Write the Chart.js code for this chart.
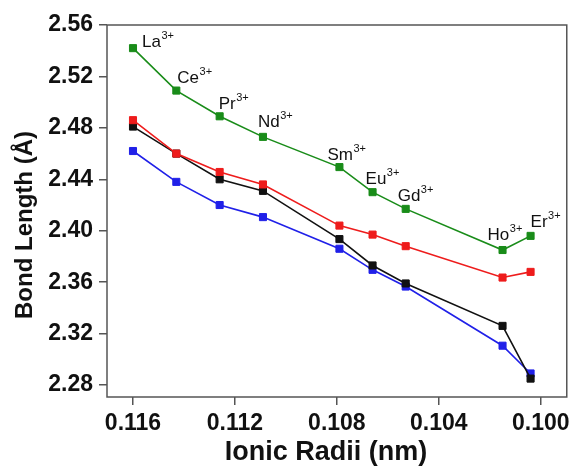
<!DOCTYPE html>
<html>
<head>
<meta charset="utf-8">
<script src="https://cdn.jsdelivr.net/npm/chart.js@4.4.0/dist/chart.umd.min.js"></script>
<style>
  body { margin: 0; background: #fff; }
  canvas { display: block; }
</style>
</head>
<body>
<canvas id="chart" width="575" height="466"></canvas>
<script>
// values
const ions = ["La", "Ce", "Pr", "Nd", "Sm", "Eu", "Gd", "Ho", "Er"];
const ionicRadii = [0.1160, 0.1143, 0.1126, 0.1109, 0.1079, 0.1066, 0.1053, 0.1015, 0.1004];
const greenSeries = [2.542, 2.509, 2.489, 2.473, 2.4495, 2.430, 2.417, 2.385, 2.396];
const redSeries = [2.486, 2.460, 2.4457, 2.436, 2.404, 2.397, 2.388, 2.3636, 2.368];
const blackSeries = [2.481, 2.460, 2.440, 2.431, 2.3935, 2.373, 2.359, 2.326, 2.285];
const blueSeries = [2.462, 2.438, 2.420, 2.4106, 2.386, 2.3696, 2.3566, 2.3106, 2.289];
const xTicks = [0.116, 0.112, 0.108, 0.104, 0.100];
const yTicks = [2.28, 2.32, 2.36, 2.40, 2.44, 2.48, 2.52, 2.56];

// pixel nudges for the ion labels (relative to the green points)
const labelOffsets = [[9, -1], [1, -8], [-1, -7], [-5, -10], [-12, -7], [-7, -8], [-8, -8], [-15, -10], [0, -9]];

const FONT = "'Liberation Sans', Arial, Helvetica, sans-serif";
const FRAME = "#555";

const toPoints = values => values.map((y, i) => ({ x: ionicRadii[i], y }));

const makeSet = (label, values, color) => ({
  label,
  data: toPoints(values),
  borderColor: color,
  backgroundColor: color,
  pointBackgroundColor: color,
  pointBorderColor: color,
  pointStyle: "rect",
  pointRadius: 5,
  pointBorderWidth: 1,
  borderWidth: 1.6,
  tension: 0,
  clip: false
});

const framePlugin = {
  id: "frame",
  beforeDatasetsDraw(chart) {
    const { ctx, chartArea: a } = chart;
    ctx.save();
    ctx.strokeStyle = FRAME;
    ctx.lineWidth = 1.5;
    ctx.strokeRect(a.left, a.top, a.right - a.left, a.bottom - a.top);
    ctx.restore();
  }
};

const textPlugin = {
  id: "texts",
  afterDatasetsDraw(chart) {
    const { ctx, scales: { x, y }, chartArea: a } = chart;
    ctx.save();
    ctx.fillStyle = "#111";

    // ion labels with superscript
    ions.forEach((ion, i) => {
      const px = x.getPixelForValue(ionicRadii[i]) + labelOffsets[i][0];
      const py = y.getPixelForValue(greenSeries[i]) + labelOffsets[i][1];
      ctx.textAlign = "left";
      ctx.textBaseline = "alphabetic";
      ctx.font = "17px " + FONT;
      ctx.fillText(ion, px, py);
      const w = ctx.measureText(ion).width;
      ctx.font = "11px " + FONT;
      ctx.fillText("3+", px + w + 0.5, py - 8);
    });

    // axis titles
    ctx.font = "bold 27px " + FONT;
    ctx.textAlign = "center";
    ctx.textBaseline = "alphabetic";
    ctx.fillText("Ionic Radii (nm)", 326, 460);

    ctx.save();
    ctx.translate(32, 225);
    ctx.rotate(-Math.PI / 2);
    ctx.font = "bold 24px " + FONT;
    ctx.fillText("Bond Length (Å)", 0, 0);
    ctx.restore();

    ctx.restore();
  }
};

new Chart(document.getElementById("chart"), {
  type: "line",
  data: {
    datasets: [
      makeSet("green", greenSeries, "#198c19"),
      makeSet("red", redSeries, "#ee1c1c"),
      makeSet("black", blackSeries, "#111111"),
      makeSet("blue", blueSeries, "#2020e8")
    ]
  },
  options: {
    responsive: false,
    animation: false,
    devicePixelRatio: 1,
    layout: { padding: { top: 25, right: 8, left: 0, bottom: 0 } },
    plugins: {
      legend: { display: false },
      tooltip: { enabled: false }
    },
    scales: {
      x: {
        type: "linear",
        reverse: true,
        min: 0.09898,
        max: 0.11702,
        afterBuildTicks: scale => {
          scale.ticks = xTicks.map(value => ({ value }));
        },
        afterFit: scale => {
          scale.height = 69;
        },
        grid: {
          drawOnChartArea: false,
          drawTicks: true,
          tickLength: 8,
          color: FRAME,
          lineWidth: 1.5
        },
        border: { display: false },
        ticks: {
          padding: 5,
          maxRotation: 0,
          color: "#111",
          font: { family: FONT, size: 23, weight: "bold" },
          callback: v => v.toFixed(3)
        }
      },
      y: {
        min: 2.2707,
        max: 2.56,
        afterBuildTicks: scale => {
          scale.ticks = yTicks.map(value => ({ value }));
        },
        afterFit: scale => {
          scale.width = 107;
        },
        grid: {
          drawOnChartArea: false,
          drawTicks: true,
          tickLength: 8,
          color: FRAME,
          lineWidth: 1.5
        },
        border: { display: false },
        ticks: {
          padding: 6,
          color: "#111",
          font: { family: FONT, size: 23, weight: "bold" },
          callback: v => v.toFixed(2)
        }
      }
    }
  },
  plugins: [framePlugin, textPlugin]
});
</script>
</body>
</html>
